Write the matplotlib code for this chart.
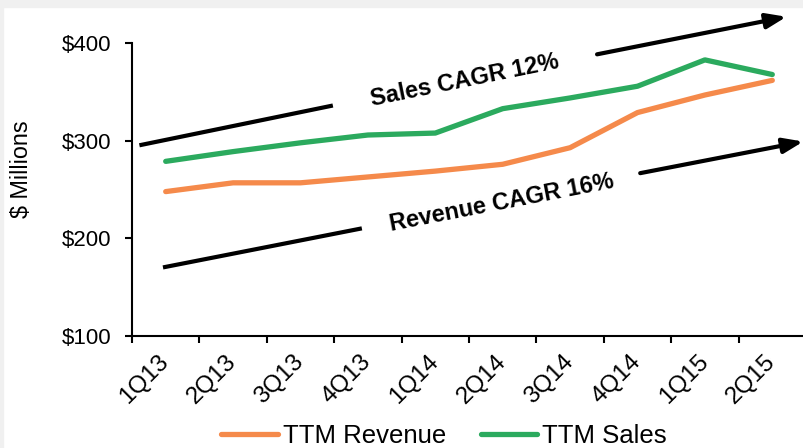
import matplotlib
matplotlib.use('Agg')
import matplotlib.pyplot as plt
from matplotlib.patches import Rectangle

plt.rcParams['font.family'] = ['Liberation Sans', 'DejaVu Sans']

# quarters and trailing-twelve-month values ($ millions)
quarters = ['1Q13', '2Q13', '3Q13', '4Q13', '1Q14', '2Q14', '3Q14', '4Q14', '1Q15', '2Q15']
ttm_revenue = [248, 257, 257, 263, 269, 276, 293, 329, 347, 362]
ttm_sales = [279, 289, 298, 306, 308, 333, 344, 356, 383, 368]

y_ticks = [100, 200, 300, 400]
y_labels = ['$100', '$200', '$300', '$400']

# CAGR trend arrows (plain segment, then arrow segment) in data coords
sales_seg = [(-0.36, 295.9), (2.45, 335.8)]
sales_arrow = [(6.40, 388.7), (9.21, 427.2)]
rev_seg = [(-0.01, 170.7), (2.88, 209.9)]
rev_arrow = [(7.04, 266.9), (9.46, 299.3)]

orange = '#F58A4B'
green = '#2BAA5E'

fig = plt.figure(figsize=(8.04, 4.48), dpi=100)
ax = fig.add_axes([132 / 804, 0.25, 674 / 804, (336 - 43.3) / 448])

x = list(range(len(quarters)))
ax.plot(x, ttm_revenue, color=orange, lw=3.8, label='TTM Revenue', solid_capstyle='round')
ax.plot(x, ttm_sales, color=green, lw=3.8, label='TTM Sales', solid_capstyle='round')

# trend lines
for seg in (sales_seg, rev_seg):
    ax.plot([seg[0][0], seg[1][0]], [seg[0][1], seg[1][1]], color='black', lw=3, clip_on=False)
for arr in (sales_arrow, rev_arrow):
    ax.annotate('', xy=arr[1], xytext=arr[0], annotation_clip=False,
                arrowprops=dict(arrowstyle='-|>,head_length=1.2,head_width=0.45',
                                color='black', lw=3, shrinkA=0, shrinkB=0))

ax.text(4.44, 361.4, 'Sales CAGR 12%', fontsize=17, fontweight='bold',
        rotation=11.5, rotation_mode='anchor', ha='center', va='center')
ax.text(4.99, 236.5, 'Revenue CAGR 16%', fontsize=17, fontweight='bold',
        rotation=11, rotation_mode='anchor', ha='center', va='center')

ax.set_xlim(-0.5, len(quarters) - 0.5)
ax.set_ylim(100, 400)

ax.set_yticks(y_ticks)
ax.set_yticklabels(y_labels)
ax.tick_params(axis='y', direction='out', length=5, width=1.5, pad=10, labelsize=16)

ax.set_xticks([i - 0.5 for i in range(len(quarters) + 1)])
ax.set_xticklabels([])
ax.set_xticks(x, minor=True)
ax.set_xticklabels(quarters, minor=True)
ax.tick_params(axis='x', which='major', direction='out', length=5, width=1.5)
ax.tick_params(axis='x', which='minor', length=0, pad=16, labelsize=17.5)
plt.setp(ax.get_xticklabels(minor=True), rotation=45, ha='right', va='center',
         rotation_mode='anchor')

for s in ('top', 'right'):
    ax.spines[s].set_visible(False)
for s in ('left', 'bottom'):
    ax.spines[s].set_linewidth(1.5)

ax.set_ylabel('$ Millions', fontsize=16.8)
ax.yaxis.set_label_coords(-0.147, 0.571)

fig.legend(loc='center', bbox_to_anchor=(444 / 804, 0.027), ncol=2, frameon=False,
           fontsize=18.5, handlelength=2.2, handletextpad=0.2, columnspacing=1.35)

# light grey frame at the top and left edge
fig.patches.append(Rectangle((0, 1 - 7 / 448), 1, 7 / 448, transform=fig.transFigure,
                             color='#F0F0F0', zorder=-1))
fig.patches.append(Rectangle((0, 0), 3 / 804, 1, transform=fig.transFigure,
                             color='#F0F0F0', zorder=-1))

fig.savefig('out.png', dpi=100)
